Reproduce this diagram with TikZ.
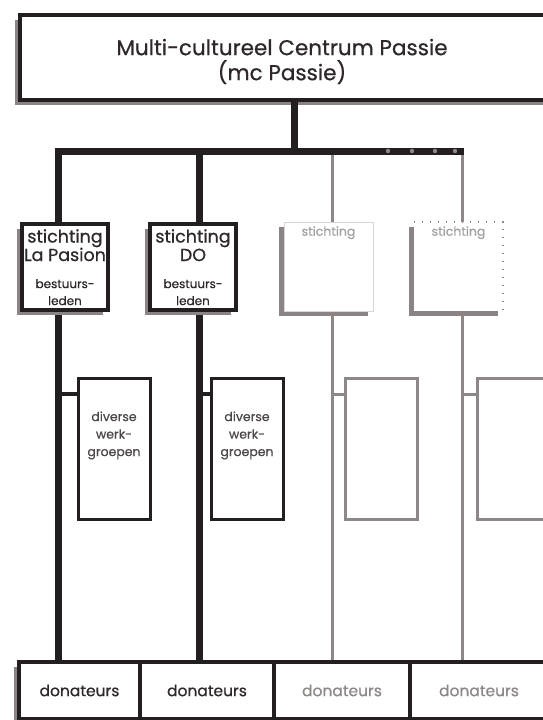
\documentclass[tikz,border=0pt]{standalone}
\usepackage{fontspec}
\setmainfont{Poppins}[FakeBold=0.6]
\usetikzlibrary{calc,shadows,backgrounds}
\definecolor{ink}{HTML}{231F20}
\definecolor{txt}{HTML}{2E2829}
\definecolor{pale}{HTML}{8E8787}
\definecolor{shade}{HTML}{8A8484}
\newcommand{\bw}{86pt}

\tikzset{
  boxshadow/.style={general shadow={shadow xshift=-5pt,shadow yshift=-5pt,fill=shade}},
  plain/.style={anchor=north west,inner sep=0pt,outer sep=0pt,fill=white},
  headbox/.style={plain,draw=ink,line width=4pt,boxshadow,minimum width=528pt,minimum height=85pt},
  headtext/.style={inner sep=0pt,text=txt,align=center,font=\fontsize{21.5}{25}\selectfont},
  stbox/.style={plain,draw=ink,line width=4pt,boxshadow,minimum size=\bw},
  ghostbox/.style={plain,boxshadow,minimum size=89pt},
  wgbox/.style={plain,line width=3pt,minimum width=72pt,minimum height=141pt},
  doncell/.style={plain,draw=ink,line width=3.5pt,minimum height=57pt,text=txt,
    font=\fontsize{15.5}{17}\selectfont},
  sttitle/.style={anchor=north,inner sep=0pt,align=center,text=txt,font=\fontsize{17.5}{18.5}\selectfont},
  stsub/.style={anchor=north,inner sep=0pt,align=center,text=txt,font=\fontsize{12}{17}\selectfont},
  wgtext/.style={inner sep=0pt,align=center,text=txt!85,font=\fontsize{12.5}{17.5}\selectfont},
  trunk/.style={ink,line width=7pt},
  branch/.style={pale,line width=3pt}
}

\begin{document}
\begin{tikzpicture}[x=1pt,y=-1pt]
\useasboundingbox (0,0) rectangle (543,720);
\node[headbox] (head) at (20,15) {};
\node[headtext] at ($(head.center)+(-2,4)$) {Multi-cultureel Centrum Passie\\(mc Passie)};
\coordinate (hub) at (294,151);
\foreach \i/\x in {1/58,2/199,3/332,4/462}{
  \coordinate (c\i) at (\x,151);
}
\node[stbox] (st1) at (22,224) {};
\node[stbox] (st2) at (150,224) {};
\node[ghostbox,draw=pale!35,line width=0.6pt] (st3) at (284,222) {};
\node[ghostbox] (st4) at (414,222) {};
\draw[pale,line width=1.2pt,dash pattern=on 1.2pt off 6.8pt] (st4.north west) -- (st4.north east) -- (st4.south east);
\node[sttitle] at ($(st1.north)+(0,5)$) {stichting\\La Pasion};
\node[sttitle] at ($(st2.north)+(0,5)$) {stichting\\DO};
\node[stsub] at ($(st1.north)+(0,55)$) {bestuurs-\\leden};
\node[stsub] at ($(st2.north)+(0,55)$) {bestuurs-\\leden};
\node[sttitle,text=pale!80,font=\fontsize{12.5}{14}\selectfont] at ($(st3.north)+(0,4)$) {stichting};
\node[sttitle,text=pale!80,font=\fontsize{12.5}{14}\selectfont] at ($(st4.north)+(0,4)$) {stichting};
\foreach \i/\x/\c in {1/78/ink,2/211/ink,3/345/pale,4/477/pale}{
  \node[wgbox,draw=\c] (wg\i) at (\x,378) {};
}
\node[wgtext] at ($(wg1.center)+(0,-13)$) {diverse\\werk-\\groepen};
\node[wgtext] at ($(wg2.center)+(0,-13)$) {diverse\\werk-\\groepen};
\node[doncell,boxshadow,minimum width=121pt] (don1) at (19,662) {donateurs};
\node[doncell,minimum width=134pt] (don2) at (140,662) {donateurs};
\node[doncell,minimum width=136pt,text=pale] (don3) at (274,662) {donateurs};
\node[doncell,minimum width=138pt,text=pale] (don4) at (410,662) {donateurs};
\draw[ink,line width=7pt] (hub |- head.south) -- (hub);
\draw[trunk] ([xshift=-3.5pt]c1) -- ([xshift=1.5pt]c4);
\foreach \x in {388,412,435,455}{
  \fill[pale] (\x,151) circle (2.2pt);
}
\begin{pgfonlayer}{background}
\draw[trunk] (c1) -- (c1 |- don1.north);
\draw[trunk] (c2) -- (c2 |- don1.north);
\draw[branch] (c3) -- (c3 |- don1.north);
\draw[branch] (c4) -- (c4 |- don1.north);
\draw[ink,line width=3.5pt] (c1 |- 0,394) -- (wg1.west |- 0,394);
\draw[ink,line width=3.5pt] (c2 |- 0,394) -- (wg2.west |- 0,394);
\draw[pale,line width=3pt] (c3 |- 0,394) -- (wg3.west |- 0,394);
\draw[pale,line width=3pt] (c4 |- 0,394) -- (wg4.west |- 0,394);
\end{pgfonlayer}
\end{tikzpicture}
\end{document}
